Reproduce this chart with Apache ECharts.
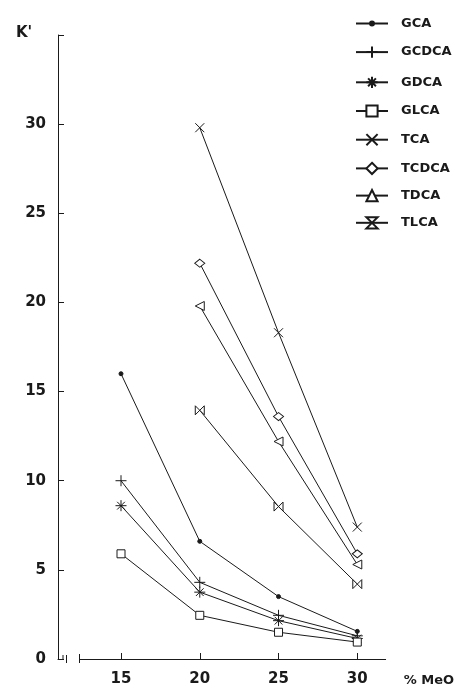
<!DOCTYPE html>
<html>
<head>
<meta charset="utf-8">
<script src="https://cdn.jsdelivr.net/npm/echarts@6/dist/echarts.min.js"></script>
<style>
html,body{margin:0;padding:0;background:#fff;}
#chart{width:457px;height:687px;}
</style>
</head>
<body>
<div id="chart"></div>
<script>
// % MeO values (x)
var meo = [15, 20, 25, 30];
// K' values per compound (null = not measured)
var GCA   = [16.0, 6.6, 3.5, 1.55];
var GCDCA = [10.0, 4.3, 2.45, 1.3];
var GDCA  = [8.6, 3.75, 2.15, 1.15];
var GLCA  = [5.9, 2.45, 1.5, 0.95];
var TCA   = [null, 29.8, 18.3, 7.4];
var TCDCA = [null, 22.2, 13.6, 5.9];
var TDCA  = [null, 19.8, 12.2, 5.3];
var TLCA  = [null, 13.95, 8.55, 4.2];
var names = ['GCA','GCDCA','GDCA','GLCA','TCA','TCDCA','TDCA','TLCA'];
var values = [GCA, GCDCA, GDCA, GLCA, TCA, TCDCA, TDCA, TLCA];
var yTicks = [0, 5, 10, 15, 20, 25, 30];

var INK = '#1a1a1a';
var FONT = 'DejaVu Sans';

var symbols = [
  {symbol: 'circle', size: 4, fill: INK, rotate: 0},
  {symbol: 'path://M0,5 L10,5 M5,0 L5,10', size: 11, fill: 'none', rotate: 0},
  {symbol: 'path://M0,5 L10,5 M5,0 L5,10 M1.5,1.5 L8.5,8.5 M8.5,1.5 L1.5,8.5', size: 11, fill: 'none', rotate: 0},
  {symbol: 'rect', size: 8, fill: '#fff', rotate: 0},
  {symbol: 'path://M0,0 L10,10 M10,0 L0,10', size: 9, fill: 'none', rotate: 0},
  {symbol: 'diamond', size: [10, 8], fill: '#fff', rotate: 0},
  {symbol: 'triangle', size: 9, fill: '#fff', rotate: 90},
  {symbol: 'path://M0,0 L10,0 L0,10 L10,10 Z', size: 9, fill: '#fff', rotate: 90}
];

var series = names.map(function (n, i) {
  var data = [];
  values[i].forEach(function (v, j) {
    if (v !== null) data.push([meo[j], v]);
  });
  var s = symbols[i];
  return {
    name: n,
    type: 'line',
    data: data,
    symbol: s.symbol,
    symbolSize: s.size,
    symbolRotate: s.rotate,
    showAllSymbol: true,
    lineStyle: {color: INK, width: 1},
    itemStyle: {color: s.fill, borderColor: INK, borderWidth: 1},
    emphasis: {disabled: true}
  };
});

var legendData = names.map(function (n) {
  if (n === 'GCA') {
    return {name: n, icon: 'path://M0,7 L32,7 M14,7 a2,2 0 1,0 4,0 a2,2 0 1,0 -4,0 Z'};
  }
  return {name: n};
});

var chart = echarts.init(document.getElementById('chart'), null, {renderer: 'canvas'});
chart.setOption({
  animation: false,
  backgroundColor: '#fff',
  title: {
    text: "K'",
    left: 11,
    top: 21,
    textStyle: {fontFamily: FONT, fontWeight: 'bold', fontSize: 15, color: INK}
  },
  legend: {
    orient: 'vertical',
    left: 350,
    top: 12,
    itemWidth: 32,
    itemHeight: 14,
    itemGap: 14,
    symbolRotate: 0,
    data: legendData,
    textStyle: {fontFamily: FONT, fontWeight: 'bold', fontSize: 13, color: INK, padding: [0, 0, 0, 8]}
  },
  grid: {left: 58, right: 69, top: 35, bottom: 28, containLabel: false},
  xAxis: {
    type: 'value',
    min: 11,
    max: 31.8,
    name: '% MeO',
    nameLocation: 'end',
    nameGap: 18,
    nameTextStyle: {fontFamily: FONT, fontWeight: 'bold', fontSize: 13, color: INK, verticalAlign: 'top', padding: [15, 0, 0, 0]},
    axisLine: {show: true, lineStyle: {color: INK, width: 1}},
    axisTick: {show: true, inside: true, length: 6, customValues: meo, lineStyle: {color: INK}},
    axisLabel: {customValues: meo, margin: 13, fontFamily: FONT, fontWeight: 'bold', fontSize: 15, color: INK},
    splitLine: {show: false}
  },
  yAxis: {
    type: 'value',
    min: 0,
    max: 35,
    interval: 5,
    axisLine: {show: true, lineStyle: {color: INK, width: 1}},
    axisTick: {show: true, inside: true, length: 6, lineStyle: {color: INK}},
    axisLabel: {
      margin: 12, fontFamily: FONT, fontWeight: 'bold', fontSize: 15, color: INK,
      formatter: function (v) { return yTicks.indexOf(v) >= 0 ? String(v) : ''; }
    },
    splitLine: {show: false}
  },
  graphic: [
    {type: 'rect', shape: {x: 64, y: 656, width: 15, height: 6}, style: {fill: '#fff'}, z: 100},
    {type: 'line', shape: {x1: 63, y1: 655, x2: 63, y2: 660}, style: {stroke: INK, lineWidth: 1}, z: 101},
    {type: 'line', shape: {x1: 66.5, y1: 655, x2: 66.5, y2: 663}, style: {stroke: INK, lineWidth: 1}, z: 101},
    {type: 'line', shape: {x1: 79.5, y1: 654, x2: 79.5, y2: 663}, style: {stroke: INK, lineWidth: 1}, z: 101}
  ],
  series: series
});
</script>
</body>
</html>
